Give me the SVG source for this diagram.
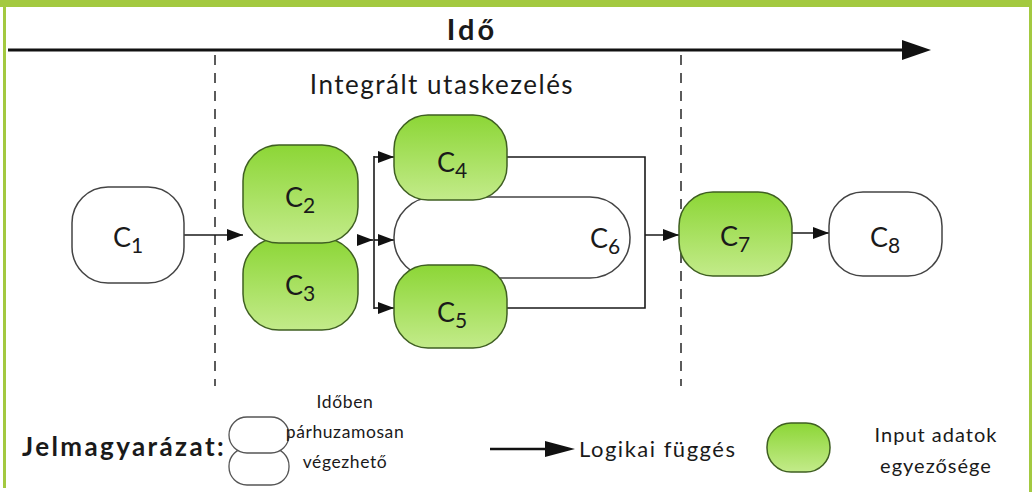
<svg xmlns="http://www.w3.org/2000/svg" width="1032" height="492" viewBox="0 0 1032 492">
<defs>
<linearGradient id="g" x1="0" y1="0" x2="0" y2="1">
<stop offset="0" stop-color="#8cd636"/>
<stop offset="1" stop-color="#c3eb8a"/>
</linearGradient>
<marker id="ah" viewBox="0 0 16 12" refX="16" refY="6" markerWidth="16" markerHeight="12" markerUnits="userSpaceOnUse" orient="auto">
<path d="M0,0 L16,6 L0,12 z" fill="#111"/>
</marker>
<style>
.green{fill:url(#g);stroke:#3f5f22;stroke-width:1.5}
.white{fill:#fff;stroke:#444;stroke-width:1.5}
.lbl{font-family:Lato,"Open Sans",sans-serif;font-size:27px;fill:#1a1a1a}
.sub{font-size:21px}
.conn{fill:none;stroke:#1a1a1a;stroke-width:1.6}
.dash{stroke:#333;stroke-width:1.6;stroke-dasharray:10,8}
.txt{font-family:Lato,"Open Sans",sans-serif;fill:#1a1a1a}
</style>
</defs>
<rect x="0" y="0" width="1032" height="492" fill="#fff"/>
<g id="frame">
<rect x="0" y="0" width="1032" height="7" fill="#a3c940"/>
<rect x="3" y="0" width="3" height="488" fill="#a3c940"/>
<rect x="1029" y="0" width="3" height="492" fill="#a3c940"/>
</g>
<g id="timeline">
<line x1="8" y1="50" x2="905" y2="50" stroke="#111" stroke-width="3"/>
<polygon points="902,40 931,50 902,60" fill="#111"/>
<text class="txt" x="472" y="40" text-anchor="middle" font-size="29" font-weight="bold" letter-spacing="3">Idő</text>
<line class="dash" x1="215" y1="55" x2="215" y2="386"/>
<line class="dash" x1="681" y1="55" x2="681" y2="386"/>
<text class="txt" x="442" y="94" text-anchor="middle" font-size="26" letter-spacing="1.5">Integrált utaskezelés</text>
</g>
<g id="connectors">
<line class="conn" x1="184" y1="235" x2="243" y2="235" marker-end="url(#ah)"/>
<line class="conn" x1="358" y1="240" x2="373" y2="240" marker-end="url(#ah)"/>
<line class="conn" x1="374" y1="156" x2="374" y2="309"/>
<line class="conn" x1="374" y1="157" x2="394" y2="157" marker-end="url(#ah)"/>
<line class="conn" x1="374" y1="240" x2="394" y2="240" marker-end="url(#ah)"/>
<line class="conn" x1="374" y1="308" x2="394" y2="308" marker-end="url(#ah)"/>
<polyline class="conn" points="507,157 645,157 645,308 507,308"/>
<line class="conn" x1="645" y1="235" x2="679" y2="235" marker-end="url(#ah)"/>
<line class="conn" x1="792" y1="233" x2="829" y2="233" marker-end="url(#ah)"/>
</g>
<g id="c1">
<rect class="white" x="72" y="187" width="112" height="96" rx="36"/>
<text class="lbl" x="113" y="247">C<tspan class="sub" dy="6">1</tspan></text>
</g>
<g id="c3">
<rect class="green" x="243" y="238" width="115" height="92" rx="36"/>
<text class="lbl" x="285" y="295">C<tspan class="sub" dy="6">3</tspan></text>
</g>
<g id="c2">
<rect class="green" x="243" y="145" width="115" height="98" rx="36"/>
<text class="lbl" x="285" y="207">C<tspan class="sub" dy="6">2</tspan></text>
</g>
<g id="c6">
<rect class="white" x="394" y="197" width="236" height="81" rx="40"/>
<text class="lbl" x="590" y="248">C<tspan class="sub" dy="6">6</tspan></text>
</g>
<g id="c4">
<rect class="green" x="394" y="115" width="113" height="85" rx="34"/>
<text class="lbl" x="437" y="172">C<tspan class="sub" dy="6">4</tspan></text>
</g>
<g id="c5">
<rect class="green" x="394" y="265" width="113" height="83" rx="34"/>
<text class="lbl" x="437" y="322">C<tspan class="sub" dy="6">5</tspan></text>
</g>
<g id="c7">
<rect class="green" x="679" y="192" width="113" height="84" rx="34"/>
<text class="lbl" x="720" y="246">C<tspan class="sub" dy="6">7</tspan></text>
</g>
<g id="c8">
<rect class="white" x="829" y="192" width="113" height="84" rx="34"/>
<text class="lbl" x="870" y="247">C<tspan class="sub" dy="6">8</tspan></text>
</g>
<g id="legend">
<text class="txt" x="22" y="456" font-size="26" font-weight="bold" letter-spacing="2.4">Jelmagyarázat:</text>
<rect x="229" y="448" width="60" height="37" rx="18" fill="#fff" stroke="#555" stroke-width="1.3"/>
<rect x="229" y="417" width="60" height="36" rx="18" fill="#fff" stroke="#555" stroke-width="1.3"/>
<text class="txt" x="345" y="408" text-anchor="middle" font-size="17.5" letter-spacing="0.6">Időben</text>
<text class="txt" x="345" y="438" text-anchor="middle" font-size="17.5" letter-spacing="0.6">párhuzamosan</text>
<text class="txt" x="345" y="468" text-anchor="middle" font-size="17.5" letter-spacing="0.6">végezhető</text>
<line x1="490" y1="449" x2="548" y2="449" stroke="#111" stroke-width="2.5"/>
<polygon points="545,441 575,449 545,457" fill="#111"/>
<text class="txt" x="579" y="457" font-size="22" letter-spacing="1.5">Logikai függés</text>
<rect class="green" x="767" y="423" width="63" height="49" rx="24"/>
<text class="txt" x="936" y="442" text-anchor="middle" font-size="20" letter-spacing="1">Input adatok</text>
<text class="txt" x="936" y="473" text-anchor="middle" font-size="20" letter-spacing="1">egyezősége</text>
</g>
</svg>
